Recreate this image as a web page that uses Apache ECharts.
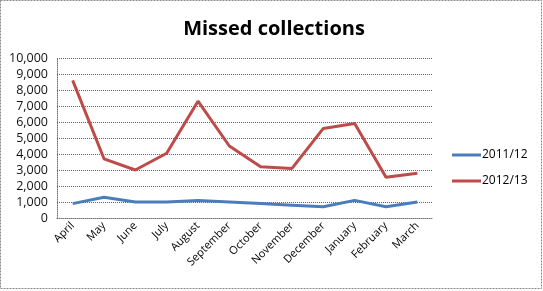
<!DOCTYPE html>
<html><head><meta charset="utf-8">
<script src="https://cdn.jsdelivr.net/npm/echarts@6/dist/echarts.min.js"></script>
<style>html,body{margin:0;padding:0;background:#fff}#c{width:543px;height:291px}</style>
</head><body><div id="c"></div>
<script>
const categories = ['April','May','June','July','August','September','October','November','December','January','February','March'];
const s2011 = [900,1300,1000,1000,1100,1000,900,800,700,1100,700,1000];
const s2012 = [8600,3700,3000,4050,7300,4500,3200,3100,5600,5900,2550,2800];
const yTicks = {min:0, max:10000, interval:1000};
const chart = echarts.init(document.getElementById('c'));
chart.setOption({
  animation:false,
  title:{text:'Missed collections', left:269, top:14, textAlign:'center',
    textStyle:{fontFamily:'Open Sans', fontSize:20, fontWeight:'bold', color:'#000'}},
  graphic:[{type:'rect', shape:{x:0.5,y:0.5,width:541,height:288}, style:{fill:null, stroke:'#888', lineDash:[2,1], lineWidth:1}}],
  legend:{orient:'vertical', left:447, top:144, itemGap:14, itemWidth:29, itemHeight:3,
    textStyle:{fontFamily:'Open Sans', fontSize:12, color:'#000', padding:[0,0,0,-4]}, icon:'rect',
    data:['2011/12','2012/13']},
  grid:{left:57, right:110, top:58, bottom:73},
  xAxis:{type:'category', data:categories, boundaryGap:true,
    axisLine:{lineStyle:{color:'#777', type:'dotted'}}, axisTick:{show:false},
    axisLabel:{rotate:45, interval:0, fontFamily:'Open Sans', fontSize:11, color:'#000', margin:6}},
  yAxis:{type:'value', min:yTicks.min, max:yTicks.max, interval:yTicks.interval,
    axisLine:{show:true, lineStyle:{color:'#777', type:'dotted'}}, axisTick:{show:false},
    splitLine:{lineStyle:{color:'#666', type:'dotted'}},
    axisLabel:{fontFamily:'Open Sans', fontSize:12.5, color:'#111', margin:9,
      formatter:v=>v.toLocaleString('en-US')}},
  series:[
    {name:'2011/12', type:'line', data:s2011, symbol:'none', lineStyle:{color:'#4a7ebb', width:3}, itemStyle:{color:'#4a7ebb'}},
    {name:'2012/13', type:'line', data:s2012, symbol:'none', lineStyle:{color:'#be4b48', width:3}, itemStyle:{color:'#be4b48'}}
  ]
});
</script></body></html>
